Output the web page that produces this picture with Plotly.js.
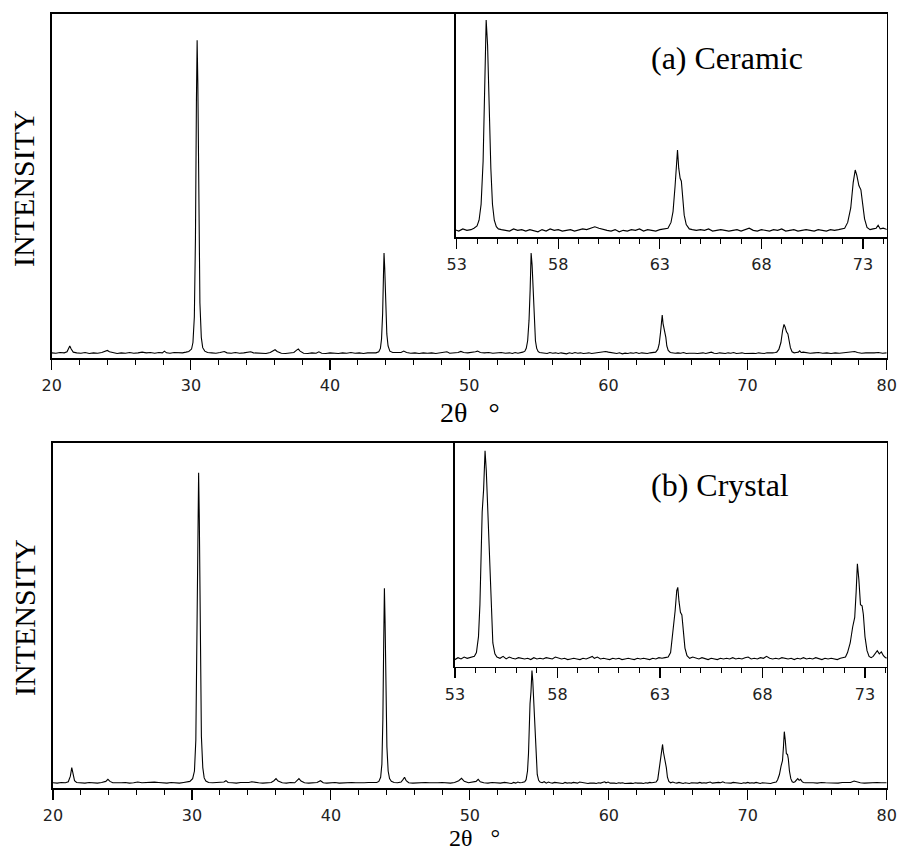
<!DOCTYPE html>
<html>
<head>
<meta charset="utf-8">
<script src="https://cdn.plot.ly/plotly-3.0.1.min.js"></script>
<style>html,body{margin:0;padding:0;background:#fff;}#chart{width:899px;height:850px;}</style>
</head>
<body>
<div id="chart"></div>
<script>
// ---------- DATA ----------
// (a) Ceramic : 2-theta (deg) and intensity (arbitrary units, 0-100 full scale)
const ceramicAngle = [
  20.0,20.3,20.6,20.9,21.1,21.2,21.3,21.4,21.55,21.8,
  22.1,22.4,22.7,23.0,23.3,23.6,23.85,24.0,24.15,24.4,
  24.7,25.0,25.3,25.6,25.9,26.2,26.5,26.8,27.1,27.4,
  27.7,27.95,28.1,28.25,28.5,28.8,29.1,29.4,29.65,29.85,
  30.05,30.15,30.25,30.33,30.4,30.45,30.5,30.57,30.65,30.75,30.85,31.0,
  31.2,31.5,31.8,32.1,32.4,32.6,32.9,33.2,33.5,33.8,
  34.1,34.3,34.5,34.8,35.1,35.4,35.7,35.9,36.05,36.2,
  36.5,36.8,37.1,37.4,37.6,37.72,37.85,38.1,38.4,38.7,
  39.0,39.2,39.4,39.7,40.0,40.3,40.6,40.9,41.2,41.5,
  41.8,42.1,42.4,42.7,43.0,43.3,43.5,
  43.62,43.7,43.78,43.84,43.88,43.93,44.0,44.08,44.17,44.3,
  44.5,44.8,45.1,45.3,45.5,45.8,46.1,46.4,46.7,47.0,
  47.3,47.6,47.9,48.2,48.4,48.6,48.9,49.2,49.4,49.6,
  49.9,50.2,50.45,50.6,50.8,51.1,51.4,51.7,52.0,52.3,
  52.6,52.9,53.1,53.3,53.5,53.7,53.85,54.0,
  54.1,54.2,54.3,54.38,54.45,54.52,54.6,54.68,54.76,54.85,54.95,55.05,
  55.2,55.4,55.6,55.8,56.0,56.2,56.4,56.6,56.8,57.0,
  57.2,57.4,57.6,57.8,58.0,58.2,58.4,58.6,58.8,59.0,
  59.2,59.4,59.6,59.8,60.0,60.2,60.4,60.6,60.8,61.0,
  61.2,61.4,61.6,61.8,62.0,62.2,62.4,62.6,62.8,63.0,
  63.2,63.4,
  63.55,63.65,63.75,63.82,63.87,63.93,64.0,64.06,64.13,64.2,64.3,64.45,
  64.6,64.8,65.0,65.2,65.4,65.6,65.8,66.0,66.2,66.4,
  66.6,66.8,67.0,67.2,67.4,67.6,67.8,68.0,68.2,68.4,
  68.6,68.8,69.0,69.2,69.4,69.6,69.8,70.0,70.2,70.4,
  70.6,70.8,71.0,71.2,71.4,71.6,71.8,72.0,
  72.1,72.25,72.4,72.52,72.62,72.7,72.8,72.9,72.98,73.08,73.2,
  73.35,73.5,73.65,73.75,73.85,74.0,74.2,74.5,74.8,75.1,
  75.4,75.7,76.0,76.3,76.6,76.9,77.2,77.5,77.7,77.9,
  78.2,78.5,78.8,79.1,79.4,79.7,80.0
];
const ceramicIntensity = [
  1.5,1.4,1.6,1.5,1.8,2.6,3.5,2.6,1.7,1.5,
  1.4,1.6,1.3,1.5,1.4,1.6,1.9,2.2,1.8,1.5,
  1.3,1.5,1.4,1.6,1.4,1.5,1.7,1.5,1.6,1.4,
  1.6,1.5,2.0,1.5,1.4,1.6,1.5,1.5,1.7,1.9,
  2.6,4.5,12,35,75,92.4,80,45,16,6,3,2.0,
  1.6,1.5,1.4,1.6,1.9,1.5,1.4,1.6,1.4,1.5,
  1.6,1.8,1.5,1.4,1.5,1.3,1.6,2.1,2.4,1.9,
  1.4,1.3,1.5,1.6,2.3,2.6,2.0,1.4,1.3,1.5,
  1.4,1.8,1.4,1.3,1.5,1.4,1.3,1.5,1.4,1.6,
  1.4,1.5,1.3,1.5,1.6,1.5,1.8,
  2.8,5.5,13,24,30.5,26,15,7,3.5,2.0,
  1.6,1.5,1.6,2.0,1.6,1.4,1.5,1.3,1.5,1.4,
  1.5,1.3,1.5,1.6,1.8,1.4,1.5,1.6,1.9,1.6,
  1.5,1.6,1.8,2.0,1.6,1.5,1.6,1.4,1.5,1.6,
  1.4,1.5,1.3,1.6,1.4,1.5,1.7,2.0,
  2.8,5.0,11,20,30.5,27,18,10,5,2.8,1.9,1.6,
  1.5,1.4,1.3,1.6,1.4,1.5,1.3,1.5,1.4,1.2,
  1.5,1.3,1.6,1.4,1.5,1.3,1.4,1.5,1.3,1.4,
  1.6,1.5,1.7,1.9,1.7,1.5,1.4,1.3,1.5,1.2,
  1.4,1.3,1.5,1.4,1.6,1.3,1.5,1.4,1.3,1.5,
  1.6,1.7,
  2.5,4.0,7.5,11,12.5,10,8.6,8.2,6.0,3.5,2.2,1.6,
  1.5,1.4,1.5,1.4,1.6,1.3,1.4,1.5,1.4,1.3,
  1.4,1.5,1.3,1.5,1.7,1.4,1.3,1.5,1.4,1.3,
  1.5,1.4,1.6,1.3,1.4,1.5,1.3,1.4,1.5,1.4,
  1.3,1.5,1.4,1.3,1.5,1.4,1.5,1.6,
  1.7,2.5,4.5,8.0,9.75,9.0,7.6,7.0,5.5,3.0,1.8,
  1.5,1.6,1.7,2.1,1.6,1.7,1.5,1.4,1.5,1.6,
  1.4,1.5,1.3,1.5,1.4,1.5,1.6,1.7,1.9,1.6,
  1.4,1.5,1.4,1.5,1.6,1.4,1.5
];

// (b) Crystal
const crystalAngle = [
  20.0,20.3,20.6,20.9,21.1,21.25,21.35,21.45,21.55,21.7,
  22.0,22.3,22.6,22.9,23.2,23.5,23.8,23.95,24.1,24.3,
  24.6,24.9,25.2,25.5,25.8,26.1,26.4,26.7,27.0,27.3,
  27.6,27.9,28.2,28.5,28.8,29.1,29.4,29.65,29.85,
  30.05,30.18,30.28,30.36,30.43,30.48,30.53,30.6,30.68,30.78,30.88,31.0,
  31.2,31.5,31.8,32.1,32.3,32.45,32.6,32.9,33.2,33.5,
  33.8,34.1,34.3,34.5,34.8,35.1,35.4,35.7,35.9,36.05,
  36.2,36.5,36.8,37.1,37.4,37.6,37.7,37.85,38.1,38.4,
  38.7,39.0,39.25,39.45,39.7,40.0,40.3,40.6,40.9,41.2,
  41.5,41.8,42.1,42.4,42.7,43.0,43.3,43.45,
  43.58,43.67,43.74,43.8,43.85,43.9,43.96,44.03,44.12,44.22,44.35,
  44.55,44.8,45.05,45.2,45.3,45.42,45.6,45.9,46.2,46.5,
  46.8,47.1,47.4,47.7,48.0,48.3,48.6,48.9,49.2,49.4,
  49.6,49.9,50.2,50.45,50.6,50.75,51.0,51.3,51.6,51.9,
  52.2,52.5,52.8,53.0,53.15,53.3,53.45,53.6,53.75,53.95,
  54.05,54.15,54.22,54.28,54.33,54.4,54.47,54.53,54.6,54.68,54.76,54.85,54.95,55.05,
  55.2,55.35,55.5,55.65,55.8,55.95,56.1,56.25,56.4,56.55,
  56.7,56.85,57.0,57.15,57.3,57.45,57.6,57.75,57.9,58.05,
  58.2,58.35,58.5,58.65,58.8,58.95,59.1,59.25,59.4,59.55,
  59.7,59.8,59.95,60.1,60.25,60.4,60.55,60.7,60.85,61.0,
  61.15,61.3,61.45,61.6,61.75,61.9,62.05,62.2,62.35,62.5,
  62.65,62.8,62.95,63.1,63.25,63.4,
  63.52,63.6,63.66,63.74,63.82,63.87,63.93,64.0,64.07,64.14,64.22,64.32,64.45,
  64.6,64.75,64.9,65.05,65.2,65.35,65.5,65.65,65.8,65.95,
  66.1,66.25,66.4,66.55,66.7,66.85,67.0,67.15,67.3,67.45,
  67.6,67.75,67.9,68.05,68.2,68.35,68.5,68.65,68.8,68.95,
  69.1,69.25,69.4,69.55,69.7,69.85,70.0,70.15,70.3,70.45,
  70.6,70.75,70.9,71.05,71.2,71.35,71.5,71.65,71.8,71.95,
  72.05,72.15,72.28,72.4,72.5,72.57,72.63,72.7,72.78,72.86,72.92,73.0,73.1,73.2,
  73.3,73.4,73.5,73.6,73.7,73.8,73.9,74.0,74.15,74.4,
  74.7,75.0,75.3,75.6,75.9,76.2,76.5,76.8,77.1,77.4,
  77.65,77.85,78.1,78.4,78.7,79.0,79.3,79.6,80.0
];
const crystalIntensity = [
  1.6,1.5,1.7,1.6,1.9,3.5,5.97,4.0,2.2,1.7,
  1.6,1.5,1.7,1.6,1.5,1.7,2.0,2.6,2.0,1.6,
  1.5,1.6,1.7,1.5,1.6,1.8,1.6,1.7,1.9,1.8,
  1.7,1.6,1.5,1.7,1.6,1.5,1.7,1.8,2.0,
  2.8,5.0,14,40,78,91.4,78,42,15,6,3,2.1,
  1.7,1.6,1.7,1.6,1.8,2.2,1.7,1.6,1.5,1.7,
  1.6,1.7,1.9,1.7,1.6,1.5,1.6,1.7,2.2,2.8,
  2.1,1.6,1.5,1.7,1.6,2.3,2.8,2.1,1.6,1.5,
  1.6,1.7,2.2,1.6,1.5,1.6,1.7,1.5,1.6,1.5,
  1.7,1.6,1.5,1.6,1.7,1.6,1.7,2.0,
  3.2,7,20,42,57.9,48,28,12,5,2.8,2.0,
  1.7,1.6,1.8,2.6,3.2,2.2,1.6,1.5,1.6,1.5,
  1.7,1.6,1.5,1.6,1.7,1.6,1.5,1.7,2.2,2.9,
  2.0,1.6,1.7,2.0,2.6,1.9,1.6,1.5,1.7,1.6,
  1.5,1.7,1.6,1.4,1.7,1.5,1.8,1.6,1.7,1.9,
  2.5,5.0,10,20,24.5,28,34.1,31,25,18,9,4,2.3,1.8,
  1.6,1.9,1.5,1.8,1.6,1.5,1.7,1.6,1.5,1.6,
  1.4,1.7,1.5,1.6,1.5,1.7,1.6,1.5,1.8,1.7,
  1.5,1.6,1.4,1.5,1.6,1.5,1.4,1.6,1.5,1.7,
  1.9,1.6,1.8,1.5,1.6,1.5,1.4,1.6,1.5,1.6,
  1.4,1.5,1.6,1.5,1.4,1.6,1.5,1.6,1.5,1.4,
  1.6,1.5,1.7,1.6,1.7,1.8,
  2.5,5.0,5.8,9.0,12.2,12.7,10.5,8.8,8.4,6.0,3.2,2.0,1.6,
  1.8,1.6,1.5,1.7,1.5,1.4,1.6,1.5,1.4,1.6,
  1.5,1.6,1.5,1.7,1.5,1.6,1.5,1.7,1.8,1.5,
  1.6,1.5,1.7,1.6,1.9,1.6,1.5,1.6,1.5,1.7,
  1.6,1.5,1.6,1.4,1.6,1.5,1.7,1.5,1.6,1.5,
  1.7,1.5,1.4,1.6,1.5,1.6,1.5,1.4,1.6,1.7,
  1.8,2.5,4.0,6.5,8.0,12,16.4,14,10,9.8,8.5,5.0,2.8,1.9,
  1.7,1.9,2.4,2.8,2.3,2.6,2.0,1.7,1.6,1.5,
  1.6,1.5,1.7,1.6,1.5,1.6,1.5,1.7,1.6,1.7,
  2.1,1.8,1.6,1.5,1.6,1.5,1.7,1.6,1.6
];

// Tick labels
const mainTickValues = [20, 30, 40, 50, 60, 70, 80];
const mainTickLabels = ["20", "30", "40", "50", "60", "70", "80"];
const insetTickValues = [53, 58, 63, 68, 73];
const insetTickLabels = ["53", "58", "63", "68", "73"];

// Texts
const panelLabels = ["(a) Ceramic", "(b) Crystal"];
const yTitle = "INTENSITY";
const xTitle = "2\u03B8&nbsp;&nbsp;&nbsp;\u00B0";

// ---------- LAYOUT HELPERS ----------
const W = 899, H = 850;
const px = v => v / W;
const py = v => 1 - v / H;

const tickFont = {family: "DejaVu Sans", size: 16, color: "#222"};
function xAxis(domain, range, anchor, vals, labels, minorStep, minorStart) {
  return {
    domain: domain, range: range, anchor: anchor,
    tickmode: "array", tickvals: vals, ticktext: labels,
    ticks: "outside", ticklen: 10, tickwidth: 1.2, tickcolor: "#000",
    minor: {ticks: "outside", ticklen: 5, tickwidth: 1, tickcolor: "#000", tickmode: "linear", tick0: minorStart, dtick: minorStep, showgrid: false},
    showline: true, linecolor: "#000", linewidth: 1.6, mirror: true,
    showgrid: false, zeroline: false, tickfont: tickFont, ticklabelstandoff: 2,
    fixedrange: true
  };
}
function yAxis(domain, range, anchor) {
  return {
    domain: domain, range: range, anchor: anchor,
    showline: true, linecolor: "#000", linewidth: 1.6, mirror: true,
    ticks: "", showticklabels: false, showgrid: false, zeroline: false,
    fixedrange: true
  };
}

const lineStyle = {color: "#000", width: 1.1};
const traces = [
  {x: ceramicAngle, y: ceramicIntensity, xaxis: "x", yaxis: "y"},
  {x: ceramicAngle, y: ceramicIntensity, xaxis: "x2", yaxis: "y2"},
  {x: crystalAngle, y: crystalIntensity, xaxis: "x3", yaxis: "y3"},
  {x: crystalAngle, y: crystalIntensity, xaxis: "x4", yaxis: "y4"}
].map(t => Object.assign(t, {type: "scatter", mode: "lines", line: lineStyle, hoverinfo: "skip", showlegend: false}));

const serif = "Liberation Serif, Times New Roman, serif";
const layout = {
  width: W, height: H,
  margin: {l: 0, r: 0, t: 0, b: 0},
  paper_bgcolor: "#fff", plot_bgcolor: "#fff",
  showlegend: false,
  xaxis:  xAxis([px(51.7), px(886.7)], [20, 80], "y", mainTickValues, mainTickLabels, 2, 20),
  yaxis:  yAxis([py(358), py(14)], [0, 100], "x"),
  xaxis2: xAxis([px(455.5), px(886.7)], [52.94, 74.17], "y2", insetTickValues, insetTickLabels, 1, 53),
  yaxis2: yAxis([py(237), py(14)], [0.48, 31.33], "x2"),
  xaxis3: xAxis([px(53), px(886.7)], [20, 80], "y3", mainTickValues, mainTickLabels, 2, 20),
  yaxis3: yAxis([py(788.3), py(443)], [0, 100], "x3"),
  xaxis4: xAxis([px(454.5), px(886.7)], [52.98, 74.06], "y4", insetTickValues, insetTickLabels, 1, 53),
  yaxis4: yAxis([py(666.7), py(443)], [0.285, 35.3], "x4"),
  annotations: [
    {text: panelLabels[0], xref: "paper", yref: "paper", x: px(727), y: py(58), xanchor: "center", yanchor: "middle", showarrow: false, font: {family: serif, size: 32, color: "#000"}},
    {text: panelLabels[1], xref: "paper", yref: "paper", x: px(720), y: py(485), xanchor: "center", yanchor: "middle", showarrow: false, font: {family: serif, size: 32, color: "#000"}},
    {text: yTitle, xref: "paper", yref: "paper", x: px(23), y: py(189), xanchor: "center", yanchor: "middle", textangle: -90, showarrow: false, font: {family: serif, size: 30, color: "#000"}},
    {text: yTitle, xref: "paper", yref: "paper", x: px(24), y: py(618), xanchor: "center", yanchor: "middle", textangle: -90, showarrow: false, font: {family: serif, size: 30, color: "#000"}},
    {text: xTitle, xref: "paper", yref: "paper", x: px(470), y: py(413), xanchor: "center", yanchor: "middle", showarrow: false, font: {family: serif, size: 28, color: "#000"}},
    {text: xTitle, xref: "paper", yref: "paper", x: px(474), y: py(837.5), xanchor: "center", yanchor: "middle", height: 20, borderpad: 0, showarrow: false, font: {family: serif, size: 24, color: "#000"}}
  ]
};

Plotly.newPlot("chart", traces, layout, {staticPlot: true, displayModeBar: false});
</script>
</body>
</html>
